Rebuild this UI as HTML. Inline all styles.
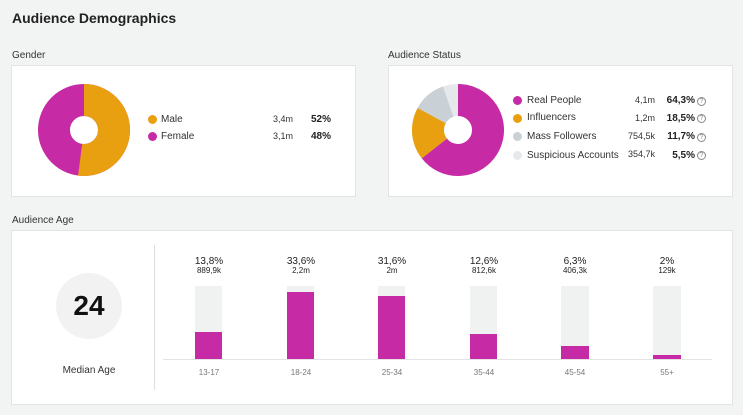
<!DOCTYPE html>
<html><head><meta charset="utf-8"><style>
*{margin:0;padding:0;box-sizing:border-box}
body{width:743px;height:415px;background:#f2f3f3;font-family:"Liberation Sans",sans-serif;position:relative;overflow:hidden;color:#222}
.a{position:absolute;white-space:nowrap}
.card{position:absolute;background:#fff;border:1px solid #e2e4e4}
.lbl{font-size:10px;color:#333}
.s{font-size:9px;color:#333}
.b{font-size:10px;font-weight:bold;color:#222}
.dot{position:absolute;width:9px;height:9px;border-radius:50%}
.q{position:absolute;width:9px;height:9px;border:1px solid #888;border-radius:50%;font-size:7px;line-height:7px;text-align:center;color:#888}
</style></head><body>
<div class="a" style="left:12px;top:10px;font-size:14px;font-weight:bold;color:#222">Audience Demographics</div>
<div class="a lbl" style="left:12px;top:50px">Gender</div>
<div class="card" style="left:11px;top:65px;width:345px;height:132px"></div>
<div class="a lbl" style="left:388px;top:50px">Audience Status</div>
<div class="card" style="left:388px;top:65px;width:345px;height:132px"></div>
<div class="a lbl" style="left:12px;top:215px">Audience Age</div>
<div class="card" style="left:11px;top:230px;width:722px;height:175px"></div>

<svg class="a" style="left:0;top:0" width="743" height="415">
<g transform="translate(84,130) rotate(-90)">
<circle r="30" fill="none" stroke="#c62aa5" stroke-width="32"/>
<circle r="30" fill="none" stroke="#e8a010" stroke-width="32" stroke-dasharray="98.02 200"/>
</g>
<g transform="translate(458,130) rotate(-90)">
<circle r="30" fill="none" stroke="#e6e9eb" stroke-width="32"/>
<circle r="30" fill="none" stroke="#c9d1d6" stroke-width="32" stroke-dasharray="0 176.5 0 0" stroke-dashoffset="0"/>
<circle r="30" fill="none" stroke="#c9d1d6" stroke-width="32" stroke-dasharray="0 156.1 22.05 200"/>
<circle r="30" fill="none" stroke="#e8a010" stroke-width="32" stroke-dasharray="0 121.2 34.9 200"/>
<circle r="30" fill="none" stroke="#c62aa5" stroke-width="32" stroke-dasharray="121.2 200"/>
</g>
<line x1="154.5" y1="245" x2="154.5" y2="390" stroke="#ddd" stroke-width="1"/>
<line x1="163" y1="359.5" x2="712" y2="359.5" stroke="#e3e3e3" stroke-width="1"/>
<g fill="#f0f1f1">
<rect x="195" y="286" width="27" height="73"/><rect x="287" y="286" width="27" height="73"/><rect x="378" y="286" width="27" height="73"/><rect x="470" y="286" width="27" height="73"/><rect x="561" y="286" width="28" height="73"/><rect x="653" y="286" width="28" height="73"/>
</g>
<g fill="#c62aa5">
<rect x="195" y="332" width="27" height="27"/><rect x="287" y="292" width="27" height="67"/><rect x="378" y="296" width="27" height="63"/><rect x="470" y="334" width="27" height="25"/><rect x="561" y="346" width="28" height="13"/><rect x="653" y="355" width="28" height="4"/>
</g>
<circle cx="89" cy="306" r="33" fill="#f2f2f2"/>
</svg>

<div class="dot" style="left:148px;top:115px;background:#e8a010"></div>
<div class="a lbl" style="left:161px;top:114px">Male</div>
<div class="a s" style="left:273px;top:114px">3,4m</div>
<div class="a b" style="left:311px;top:114px">52%</div>
<div class="dot" style="left:148px;top:132px;background:#c62aa5"></div>
<div class="a lbl" style="left:161px;top:131px">Female</div>
<div class="a s" style="left:273px;top:131px">3,1m</div>
<div class="a b" style="left:311px;top:131px">48%</div>

<div class="dot" style="left:513px;top:96px;background:#c62aa5"></div>
<div class="a lbl" style="left:527px;top:95px">Real People</div>
<div class="a s" style="right:88px;top:95px">4,1m</div>
<div class="a b" style="right:48px;top:95px">64,3%</div>
<div class="q" style="left:697px;top:97px">?</div>
<div class="dot" style="left:513px;top:114px;background:#e8a010"></div>
<div class="a lbl" style="left:527px;top:112px">Influencers</div>
<div class="a s" style="right:88px;top:113px">1,2m</div>
<div class="a b" style="right:48px;top:113px">18,5%</div>
<div class="q" style="left:697px;top:114px">?</div>
<div class="dot" style="left:513px;top:132px;background:#c9d1d6"></div>
<div class="a lbl" style="left:527px;top:131px">Mass Followers</div>
<div class="a s" style="right:88px;top:131px">754,5k</div>
<div class="a b" style="right:48px;top:131px">11,7%</div>
<div class="q" style="left:697px;top:133px">?</div>
<div class="dot" style="left:513px;top:151px;background:#e6e9eb"></div>
<div class="a lbl" style="left:527px;top:150px">Suspicious Accounts</div>
<div class="a s" style="right:88px;top:149px">354,7k</div>
<div class="a b" style="right:48px;top:150px">5,5%</div>
<div class="q" style="left:697px;top:151px">?</div>

<div class="a" style="left:56px;top:290px;width:66px;text-align:center;font-size:28px;font-weight:bold;color:#111">24</div>
<div class="a" style="left:39px;top:365px;width:100px;text-align:center;font-size:10px;color:#333">Median Age</div>

<div class="a" style="left:169px;top:257px;width:80px;text-align:center;line-height:9px">
<div style="font-size:10px">13,8%</div><div style="font-size:8px">889,9k</div></div>
<div class="a" style="left:261px;top:257px;width:80px;text-align:center;line-height:9px">
<div style="font-size:10px">33,6%</div><div style="font-size:8px">2,2m</div></div>
<div class="a" style="left:352px;top:257px;width:80px;text-align:center;line-height:9px">
<div style="font-size:10px">31,6%</div><div style="font-size:8px">2m</div></div>
<div class="a" style="left:444px;top:257px;width:80px;text-align:center;line-height:9px">
<div style="font-size:10px">12,6%</div><div style="font-size:8px">812,6k</div></div>
<div class="a" style="left:535px;top:257px;width:80px;text-align:center;line-height:9px">
<div style="font-size:10px">6,3%</div><div style="font-size:8px">406,3k</div></div>
<div class="a" style="left:627px;top:257px;width:80px;text-align:center;line-height:9px">
<div style="font-size:10px">2%</div><div style="font-size:8px">129k</div></div>

<div class="a" style="left:169px;top:368px;width:80px;text-align:center;font-size:8px;color:#777">13-17</div>
<div class="a" style="left:261px;top:368px;width:80px;text-align:center;font-size:8px;color:#777">18-24</div>
<div class="a" style="left:352px;top:368px;width:80px;text-align:center;font-size:8px;color:#777">25-34</div>
<div class="a" style="left:444px;top:368px;width:80px;text-align:center;font-size:8px;color:#777">35-44</div>
<div class="a" style="left:535px;top:368px;width:80px;text-align:center;font-size:8px;color:#777">45-54</div>
<div class="a" style="left:627px;top:368px;width:80px;text-align:center;font-size:8px;color:#777">55+</div>
</body></html>
